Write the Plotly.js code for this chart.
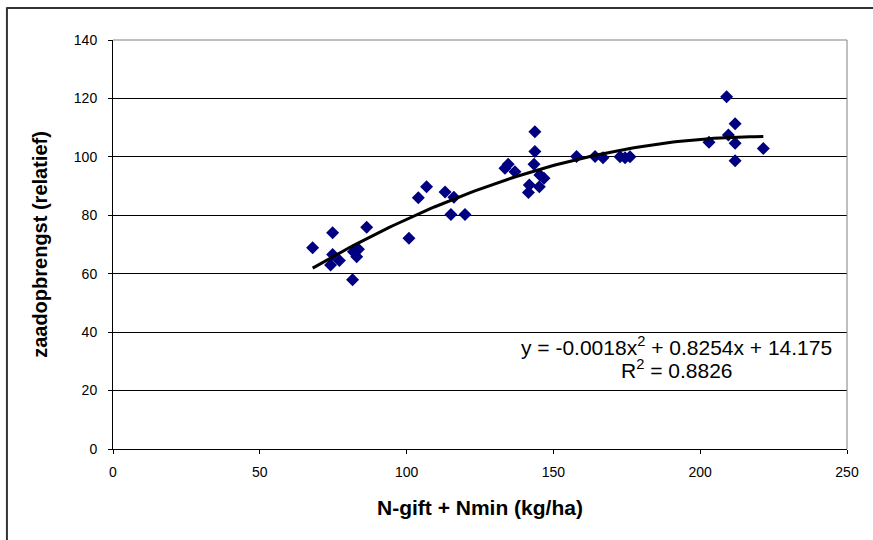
<!DOCTYPE html>
<html>
<head>
<meta charset="utf-8">
<script src="https://cdn.plot.ly/plotly-3.0.1.min.js"></script>
<style>
  html, body { margin: 0; padding: 0; background: #ffffff; }
  #chart { width: 873px; height: 540px; }
</style>
</head>
<body>
<div id="chart"></div>
<script>
// N-gift + Nmin (kg/ha)
const nTotal = [68.0, 74.8, 74.8, 74.1, 77.1, 81.6, 81.9, 83.6, 83.0, 86.4,
                100.8, 104.0, 106.8, 113.1, 116.1, 115.1, 119.9,
                143.7, 143.7, 134.6, 133.5, 136.9, 143.4, 145.4, 146.8, 141.8, 145.2, 141.5,
                157.9, 164.2, 166.9, 172.7, 174.4, 176.1,
                209.0, 211.9, 209.6, 211.9, 203.0, 221.5, 211.9];
// zaadopbrengst (relatief)
const yieldRel = [68.9, 74.0, 66.6, 63.0, 64.5, 57.9, 67.5, 68.4, 65.8, 75.9,
                  72.1, 86.0, 89.8, 88.0, 86.2, 80.3, 80.3,
                  108.6, 101.8, 97.5, 96.1, 94.9, 97.5, 93.8, 92.7, 90.4, 89.8, 87.8,
                  100.1, 100.1, 99.7, 100.0, 99.7, 100.0,
                  120.6, 111.3, 107.5, 104.7, 105.0, 102.9, 98.7];

const xTicks = [0, 50, 100, 150, 200, 250];
const yTicks = [0, 20, 40, 60, 80, 100, 120, 140];
const equationText = "y = -0.0018x<sup>2</sup> + 0.8254x + 14.175";
const r2Text = "R<sup>2</sup> = 0.8826";

// least-squares quadratic trendline from the data
function quadFit(xs, ys) {
  let S = [0,0,0,0,0], T = [0,0,0];
  for (let i = 0; i < xs.length; i++) {
    let p = 1;
    for (let k = 0; k < 5; k++) { S[k] += p; if (k < 3) T[k] += p * ys[i]; p *= xs[i]; }
  }
  const A = [[S[0],S[1],S[2],T[0]],[S[1],S[2],S[3],T[1]],[S[2],S[3],S[4],T[2]]];
  for (let c = 0; c < 3; c++) {
    for (let r = c + 1; r < 3; r++) {
      const f = A[r][c] / A[c][c];
      for (let k = c; k < 4; k++) A[r][k] -= f * A[c][k];
    }
  }
  const b = [0,0,0];
  for (let r = 2; r >= 0; r--) {
    let s = A[r][3];
    for (let k = r + 1; k < 3; k++) s -= A[r][k] * b[k];
    b[r] = s / A[r][r];
  }
  return b; // c0, c1, c2
}
const coef = quadFit(nTotal, yieldRel);
const xMin = Math.min(...nTotal), xMax = Math.max(...nTotal);
const trendX = [], trendY = [];
for (let i = 0; i <= 100; i++) {
  const x = xMin + (xMax - xMin) * i / 100;
  trendX.push(x);
  trendY.push(coef[0] + coef[1] * x + coef[2] * x * x);
}

const FONT = "Liberation Sans, Arial, sans-serif";

const traces = [
  {
    x: nTotal, y: yieldRel, type: "scatter", mode: "markers",
    marker: { symbol: "diamond", size: 10, color: "#000080", line: { width: 0 } },
    hoverinfo: "x+y"
  },
  {
    x: trendX, y: trendY, type: "scatter", mode: "lines",
    line: { color: "#000000", width: 3 }, hoverinfo: "skip"
  }
];

const layout = {
  width: 873, height: 540,
  margin: { l: 113, r: 26, t: 40, b: 91, pad: 0 },
  paper_bgcolor: "#ffffff", plot_bgcolor: "#ffffff",
  showlegend: false,
  font: { family: FONT, size: 14, color: "#000000" },
  xaxis: {
    range: [0, 250], tickvals: xTicks, ticktext: xTicks.map(String),
    showgrid: false, zeroline: false,
    showline: true, linecolor: "#000000", linewidth: 1,
    ticks: "outside", ticklen: 4, tickcolor: "#000000",
    ticklabelstandoff: 6,
    tickfont: { family: FONT, size: 14, color: "#000000" },
    title: { text: "<b>N-gift + Nmin (kg/ha)</b>", font: { family: FONT, size: 21, color: "#000000" }, standoff: 21 }
  },
  yaxis: {
    range: [0, 140], tickvals: yTicks, ticktext: yTicks.map(String),
    showgrid: true, gridcolor: "#000000", gridwidth: 1,
    zeroline: false,
    showline: true, linecolor: "#000000", linewidth: 1,
    ticks: "outside", ticklen: 4, tickcolor: "#000000",
    ticklabelstandoff: 8,
    tickfont: { family: FONT, size: 14, color: "#000000" },
    title: { text: "<b>zaadopbrengst (relatief)</b>", font: { family: FONT, size: 20, color: "#000000" }, standoff: 20 }
  },
  shapes: [
    { type: "line", xref: "paper", yref: "paper", x0: 0, x1: 1, y0: 1, y1: 1,
      line: { color: "#808080", width: 1 }, layer: "above" },
    { type: "line", xref: "paper", yref: "paper", x0: 1, x1: 1, y0: 0, y1: 1,
      line: { color: "#808080", width: 1 }, layer: "above" },
    // outer frame (left and top edges)
    { type: "line", xref: "paper", yref: "paper", x0: -0.1445, x1: -0.1445, y0: 1.08, y1: -0.3,
      line: { color: "#333333", width: 2 }, layer: "above" },
    { type: "line", xref: "paper", yref: "paper", x0: -0.1445, x1: 1.04, y0: 1.078, y1: 1.078,
      line: { color: "#333333", width: 2 }, layer: "above" }
  ],
  annotations: [
    { xref: "paper", yref: "paper", x: 0.768, y: 0.252, xanchor: "center", yanchor: "middle",
      text: equationText, showarrow: false, font: { family: FONT, size: 21, color: "#000000" } },
    { xref: "paper", yref: "paper", x: 0.768, y: 0.196, xanchor: "center", yanchor: "middle",
      text: r2Text, showarrow: false, font: { family: FONT, size: 21, color: "#000000" } }
  ]
};

Plotly.newPlot("chart", traces, layout, { displayModeBar: false, staticPlot: true });
</script>
</body>
</html>
